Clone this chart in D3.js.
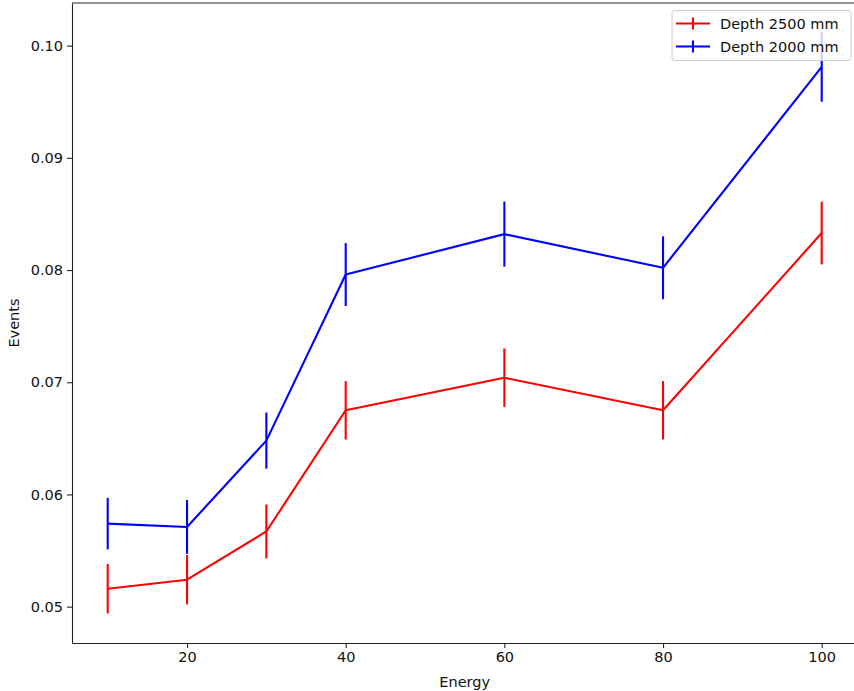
<!DOCTYPE html>
<html>
<head>
<meta charset="utf-8">
<script src="https://cdn.jsdelivr.net/npm/d3@7"></script>
<style>
  body { margin: 0; background: #fff; }
  text { font-family: "DejaVu Sans", sans-serif; }
</style>
</head>
<body>
<div id="chart"></div>
<script>
/* Events vs energy, two depths, with error bars */

const energy = [10, 20, 30, 40, 60, 80, 100];

const depth2500 = [0.0516, 0.0524, 0.0567, 0.0675, 0.0704, 0.0675, 0.0833];
const err2500   = [0.0022, 0.0022, 0.0024, 0.0026, 0.0026, 0.0026, 0.0028];

const depth2000 = [0.0574, 0.0571, 0.0648, 0.0796, 0.0832, 0.0802, 0.0981];
const err2000   = [0.0023, 0.0024, 0.0025, 0.0028, 0.0029, 0.0028, 0.0031];

const seriesNames = ["Depth 2500 mm", "Depth 2000 mm"];
const xTicks = [20, 40, 60, 80, 100];
const yTicks = [0.05, 0.06, 0.07, 0.08, 0.09, 0.10];

const width = 854,
      height = 691,
      margin = ({top: 3, right: -3.4, bottom: 48, left: 72});

const series = [
    {name: seriesNames[0], color: "#ff0000", values: depth2500, errs: err2500},
    {name: seriesNames[1], color: "#0000ff", values: depth2000, errs: err2000}
];

let svg = d3.select("#chart")
    .append("svg")
    .attr("width", width)
    .attr("height", height)
    .style("display", "block");

let x = d3.scaleLinear()
    .domain([5.5, 104.5])
    .range([margin.left, width - margin.right]);

let y = d3.scaleLinear()
    .domain([0.04676, 0.1038])
    .range([height - margin.bottom, margin.top]);

const axisColor = "#222";

const xAxis = g => g
    .attr("transform", `translate(0,${height - margin.bottom})`)
    .call(d3.axisBottom(x).tickValues(xTicks).tickFormat(d3.format("d"))
        .tickSizeInner(5).tickSizeOuter(0).tickPadding(4))
    .call(g => g.select(".domain").attr("stroke", axisColor).attr("stroke-width", 1.1))
    .call(g => g.selectAll(".tick line").attr("stroke", axisColor).attr("stroke-width", 1.1))
    .call(g => g.selectAll(".tick text").attr("fill", "#111").attr("font-size", 14.5)
        .attr("font-family", "DejaVu Sans, sans-serif"));

const yAxis = g => g
    .attr("transform", `translate(${margin.left},0)`)
    .call(d3.axisLeft(y).tickValues(yTicks).tickFormat(d3.format(".2f"))
        .tickSizeInner(5).tickSizeOuter(0).tickPadding(4))
    .call(g => g.select(".domain").attr("stroke", axisColor).attr("stroke-width", 1.1))
    .call(g => g.selectAll(".tick line").attr("stroke", axisColor).attr("stroke-width", 1.1))
    .call(g => g.selectAll(".tick text").attr("fill", "#111").attr("font-size", 14.5)
        .attr("font-family", "DejaVu Sans, sans-serif"));

// top spine (right spine falls outside the picture)
svg.append("line")
    .attr("x1", margin.left).attr("x2", width)
    .attr("y1", margin.top).attr("y2", margin.top)
    .attr("stroke", axisColor).attr("stroke-width", 1.1);

svg.append("g").call(xAxis);
svg.append("g").call(yAxis);

// axis labels
svg.append("text")
    .attr("x", (x.range()[0] + x.range()[1]) / 2)
    .attr("y", 687)
    .attr("text-anchor", "middle")
    .attr("font-size", 14.5)
    .attr("fill", "#111")
    .text("Energy");

svg.append("text")
    .attr("transform", `translate(19,${(y.range()[0] + y.range()[1]) / 2}) rotate(-90)`)
    .attr("text-anchor", "middle")
    .attr("font-size", 14.5)
    .attr("fill", "#111")
    .text("Events");

const line = d3.line()
    .x(d => x(d.e))
    .y(d => y(d.v));

for (let s of series) {
    let pts = energy.map((e, i) => ({e: e, v: s.values[i], err: s.errs[i]}));
    let g = svg.append("g");

    g.append("path")
        .datum(pts)
        .attr("fill", "none")
        .attr("stroke", s.color)
        .attr("stroke-width", 2.1)
        .attr("stroke-linejoin", "round")
        .attr("d", line);

    g.selectAll(".err")
        .data(pts)
        .join("line")
        .attr("class", "err")
        .attr("x1", d => x(d.e))
        .attr("x2", d => x(d.e))
        .attr("y1", d => y(d.v - d.err))
        .attr("y2", d => y(d.v + d.err))
        .attr("stroke", s.color)
        .attr("stroke-width", 2.1);
}

// legend
const legend = svg.append("g").attr("transform", "translate(672,10.5)");

legend.append("rect")
    .attr("width", 179)
    .attr("height", 50)
    .attr("rx", 3)
    .attr("fill", "#fff")
    .attr("fill-opacity", 0.8)
    .attr("stroke", "#ccc")
    .attr("stroke-width", 1);

series.forEach((s, i) => {
    let yy = 13 + i * 23;
    legend.append("line")
        .attr("x1", 4).attr("x2", 38)
        .attr("y1", yy).attr("y2", yy)
        .attr("stroke", s.color).attr("stroke-width", 2.1);
    legend.append("line")
        .attr("x1", 21).attr("x2", 21)
        .attr("y1", yy - 6).attr("y2", yy + 6)
        .attr("stroke", s.color).attr("stroke-width", 2.1);
    legend.append("text")
        .attr("x", 48)
        .attr("y", yy + 5)
        .attr("font-size", 14.5)
        .attr("fill", "#111")
        .text(s.name);
});
</script>
</body>
</html>
